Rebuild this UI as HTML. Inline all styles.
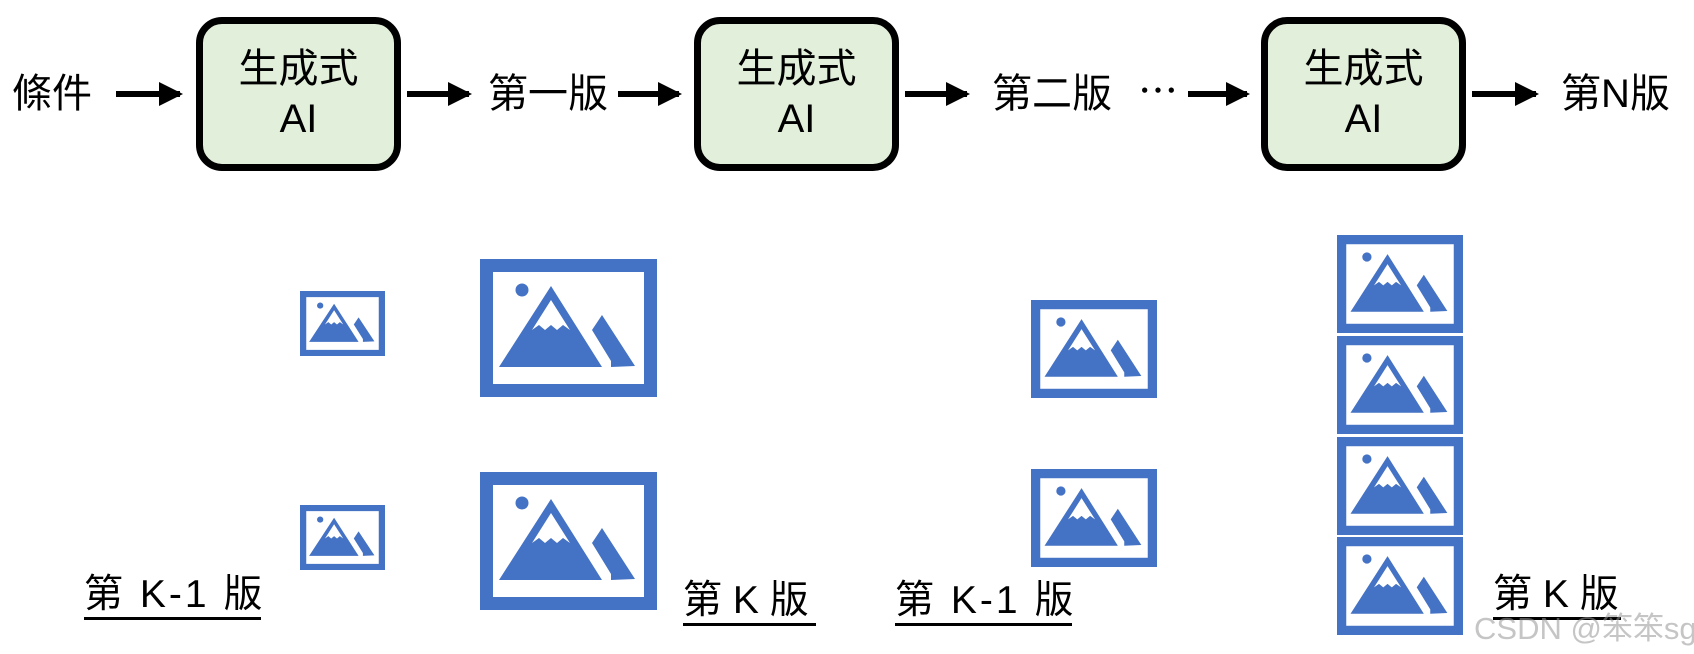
<!DOCTYPE html>
<html><head><meta charset="utf-8"><style>
body{margin:0;width:1694px;height:654px;background:#fff;position:relative;overflow:hidden;font-family:"Liberation Sans","Noto Sans CJK TC",sans-serif;color:#000}
.t{position:absolute;font-size:40px;line-height:40px;white-space:nowrap}
.box{position:absolute;top:17px;width:191px;height:140px;border:7px solid #000;border-radius:26px;background:#e2efda;text-align:center;font-size:40px;line-height:50px;box-sizing:content-box}
.box div{padding-top:20px}
.u{position:absolute;font-size:39px;line-height:40px;white-space:nowrap;border-bottom:3px solid #000;padding-bottom:2px;letter-spacing:3px}
.u.k{letter-spacing:0px}
svg.i{position:absolute}
</style></head><body>
<svg width="0" height="0" style="position:absolute"><defs>
<symbol id="pic" viewBox="0 0 177 138" preserveAspectRatio="none">
<rect x="6.5" y="6.5" width="164" height="125" fill="none" stroke="#4472c4" stroke-width="13"/>
<circle cx="42" cy="31" r="6.5" fill="#4472c4"/>
<path d="M71 27 L122 108 L19 108 Z M71 41 L52 71 L59 66 L65 71 L71 66 L77 71 L83 66 L90 71 Z" fill="#4472c4" fill-rule="evenodd"/>
<path d="M112 71 L122 56 L155 107 L131 108 L131 102 Z" fill="#4472c4"/>
</symbol>
<marker id="a" markerWidth="4" markerHeight="4" refX="3.5" refY="2" orient="auto" markerUnits="strokeWidth"><path d="M0,0 L4,2 L0,4 Z" fill="#000"/></marker>
</defs></svg>
<svg width="1694" height="200" style="position:absolute;left:0;top:0">
<g stroke="#000" stroke-width="6" marker-end="url(#a)">
<line x1="116" y1="94" x2="180" y2="94"/>
<line x1="407" y1="94" x2="469" y2="94"/>
<line x1="618" y1="94" x2="679" y2="94"/>
<line x1="905" y1="94" x2="967" y2="94"/>
<line x1="1188" y1="94" x2="1247" y2="94"/>
<line x1="1472" y1="94" x2="1536" y2="94"/>
</g></svg>
<div class="t" style="left:12px;top:74px">條件</div>
<div class="box" style="left:196px"><div>生成式<br>AI</div></div>
<div class="t" style="left:488px;top:74px">第一版</div>
<div class="box" style="left:694px"><div>生成式<br>AI</div></div>
<div class="t" style="left:992px;top:74px">第二版</div>
<div class="t" style="left:1138px;top:72px">⋯</div>
<div class="box" style="left:1261px"><div>生成式<br>AI</div></div>
<div class="t" style="left:1561px;top:74px">第N版</div>

<svg class="i" style="left:300px;top:291px" width="85" height="65"><use href="#pic"/></svg>
<svg class="i" style="left:300px;top:505px" width="85" height="65"><use href="#pic"/></svg>
<svg class="i" style="left:480px;top:259px" width="177" height="138"><use href="#pic"/></svg>
<svg class="i" style="left:480px;top:472px" width="177" height="138"><use href="#pic"/></svg>
<svg class="i" style="left:1031px;top:300px" width="126" height="98"><use href="#pic"/></svg>
<svg class="i" style="left:1031px;top:469px" width="126" height="98"><use href="#pic"/></svg>
<svg class="i" style="left:1337px;top:235px" width="126" height="98"><use href="#pic"/></svg>
<svg class="i" style="left:1337px;top:336px" width="126" height="98"><use href="#pic"/></svg>
<svg class="i" style="left:1337px;top:437px" width="126" height="98"><use href="#pic"/></svg>
<svg class="i" style="left:1337px;top:537px" width="126" height="98"><use href="#pic"/></svg>

<div class="u" style="left:84px;top:575px;width:177px">第 K-1 版</div>
<div class="u k" style="left:683px;top:581px;width:133px">第 K 版</div>
<div class="u" style="left:895px;top:581px;width:177px">第 K-1 版</div>
<div class="u k" style="left:1493px;top:575px;width:128px">第 K 版</div>
<div class="t" style="left:1474px;top:609px;font-size:31px;color:rgba(150,150,150,0.55)">CSDN @笨笨sg</div>
</body></html>
